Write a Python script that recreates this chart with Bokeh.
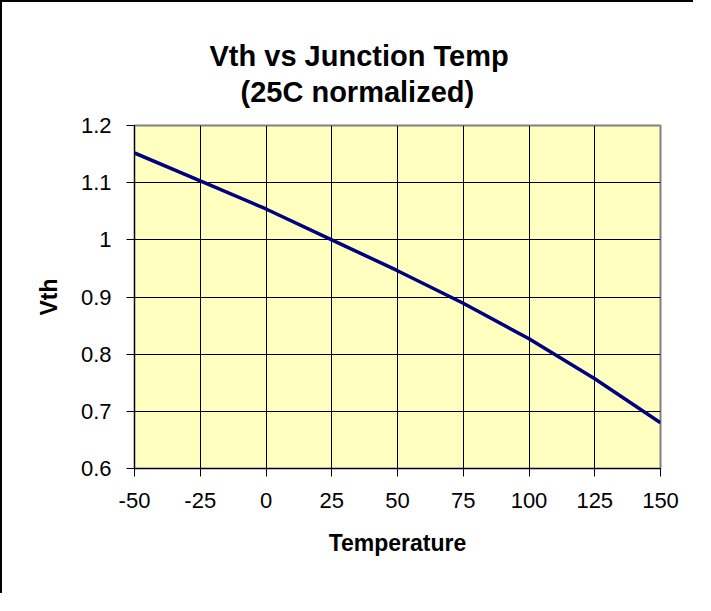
from bokeh.plotting import figure
from bokeh.models import Range1d, FixedTicker, CustomJSTickFormatter, Title
from bokeh.embed import file_html
from bokeh.resources import INLINE

# data
temperature = [-50, -25, 0, 25, 50, 75, 100, 125, 150]
vth = [1.152, 1.103, 1.054, 1.000, 0.946, 0.889, 0.827, 0.757, 0.680]
x_ticks = [-50, -25, 0, 25, 50, 75, 100, 125, 150]
y_ticks = [0.6, 0.7, 0.8, 0.9, 1.0, 1.1, 1.2]
title_line1 = "Vth vs Junction Temp"
title_line2 = "(25C normalized)"

FONT = "Liberation Sans"

p = figure(width=693, height=593, output_backend="svg", toolbar_location=None,
           x_range=Range1d(-50, 150), y_range=Range1d(0.6, 1.2),
           min_border_left=132, min_border_right=35, min_border_top=123,
           min_border_bottom=127)
# the chart frame of the reference is cropped: only top and left edges show
p.styles = {"border-top": "2px solid black", "border-left": "2px solid black"}

p.background_fill_color = "#FFFFC0"
p.border_fill_color = "white"
p.outline_line_color = "#808080"
p.outline_line_width = 2

p.line(temperature, vth, line_color="#000080", line_width=3.5)

fmt = CustomJSTickFormatter(code="return String(tick);")
for ax, ticks in ((p.xaxis[0], x_ticks), (p.yaxis[0], y_ticks)):
    ax.ticker = FixedTicker(ticks=ticks)
    ax.formatter = fmt
    ax.major_tick_in = 0
    ax.major_tick_out = 8
    ax.minor_tick_line_color = None
    ax.axis_line_color = "black"
    ax.major_tick_line_color = "black"
    ax.major_label_text_font = FONT
    ax.major_label_text_font_size = "22px"
    ax.major_label_text_color = "black"
    ax.axis_label_text_font = FONT
    ax.axis_label_text_font_size = "23px"
    ax.axis_label_text_font_style = "bold"
    ax.axis_label_text_color = "black"

p.xaxis.axis_label = "Temperature"
p.yaxis.axis_label = "Vth"
p.xaxis.major_label_standoff = 16
p.yaxis.major_label_standoff = 15
p.xaxis.axis_label_standoff = 19
p.yaxis.axis_label_standoff = 16

p.grid.grid_line_color = "black"
p.grid.grid_line_width = 1
p.grid.grid_line_alpha = 1.0

# spacing between the plot area and the two-line title
p.add_layout(Title(text=" ", text_font=FONT, text_font_size="10px", standoff=2), "above")
p.add_layout(Title(text=title_line2, align="left", offset=106,
                   text_font=FONT, text_font_size="29px", text_font_style="bold",
                   text_color="black", standoff=5), "above")
p.add_layout(Title(text=title_line1, align="left", offset=75,
                   text_font=FONT, text_font_size="29px", text_font_style="bold",
                   text_color="black", standoff=0), "above")

open("out.html", "w").write(file_html(p, INLINE))
